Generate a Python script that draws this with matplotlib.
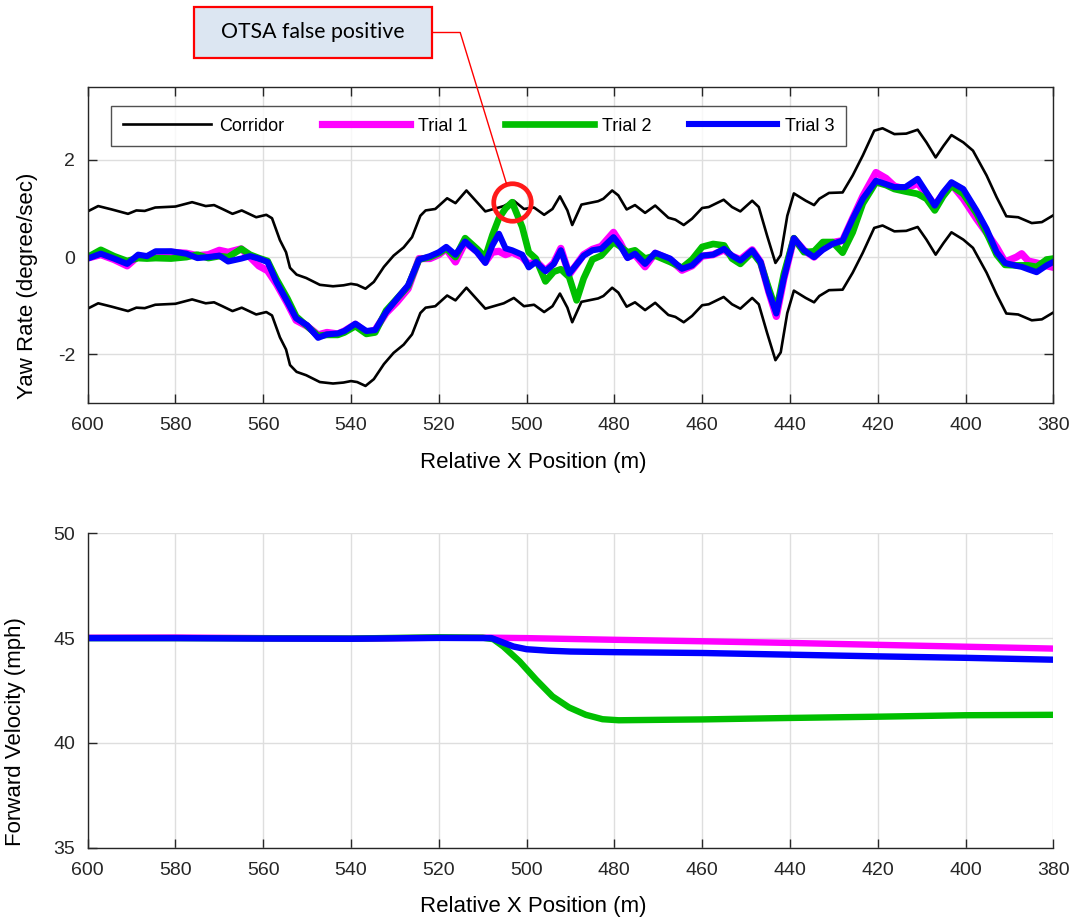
import matplotlib
matplotlib.use("Agg")
import matplotlib.pyplot as plt
from matplotlib.patches import Rectangle
import numpy as np

plt.rcParams["font.family"] = ["Liberation Sans", "DejaVu Sans"]
plt.rcParams["axes.unicode_minus"] = False

# ---- yaw rate: driver corridor (centre line, +/- half width) ----
CORRIDOR_X = [600, 597.6, 594.5, 590.8, 588.9, 587, 584.6, 580, 576.2, 573.1, 571.2,
              569.3, 567, 564.9, 561.6, 559.3, 558, 556.2, 554.8, 553.9, 552.4, 550.2,
              547.1, 544.1, 541.7, 540, 538.6, 536.7, 534.8, 532.5, 530.3, 528, 526.1,
              524.2, 523, 520.8, 518.1, 516.2, 513.7, 511.3, 509.4, 507.5, 505.2, 502.9,
              500.6, 498.3, 496, 494.1, 492.4, 490.7, 489.6, 487.5, 483.7, 482.5, 480.5,
              479.1, 477.2, 475.3, 473, 470.7, 467.7, 466.1, 464.2, 462.3, 460, 458.5,
              455.1, 453.2, 451.3, 448.6, 447.1, 445.2, 443.3, 442.1, 440.6, 439.1, 436.4,
              434.5, 433.3, 431.1, 428, 425.7, 423.4, 420.8, 418.9, 416.2, 413.5, 410.9,
              408.9, 406.8, 405, 403.2, 400.5, 398.3, 395.2, 392.9, 390.7, 388, 384.9,
              382.6, 380]
CORRIDOR_MID = [-0.06, 0.05, -0.02, -0.11, -0.04, -0.05, 0.02, 0.04, 0.13, 0.05, 0.07,
                -0.01, -0.11, -0.04, -0.18, -0.13, -0.2, -0.65, -0.9, -1.22, -1.36, -1.43,
                -1.57, -1.6, -1.58, -1.55, -1.57, -1.65, -1.51, -1.2, -0.97, -0.8, -0.59,
                -0.15, -0.04, -0.01, 0.21, 0.11, 0.37, 0.13, -0.06, -0.01, 0.05, 0.16,
                -0.01, 0.02, -0.13, -0.01, 0.25, -0.04, -0.34, 0.08, 0.15, 0.2, 0.37,
                0.27, -0.02, 0.07, -0.09, 0.06, -0.19, -0.23, -0.34, -0.21, 0.01, 0.03,
                0.18, 0.03, -0.06, 0.16, 0.03, -0.56, -1.12, -0.96, -0.15, 0.31, 0.16,
                0.07, 0.2, 0.32, 0.33, 0.68, 1.09, 1.6, 1.65, 1.53, 1.54, 1.62,
                1.36, 1.05, 1.29, 1.51, 1.36, 1.19, 0.68, 0.23, -0.16, -0.18, -0.3,
                -0.28, -0.14]
CORRIDOR_HALF = 1.0

# ---- yaw rate: trials ----
YAW_X = [600, 597, 594, 591, 588.5, 586.5, 584.5, 581, 577.5, 575, 572.5, 570, 568, 565,
         563, 561, 559, 557, 554.5, 552.5, 550, 547.5, 545.5, 543, 541.5, 539, 536.5,
         534.5, 532, 529.5, 527, 524.5, 522, 520, 518.3, 516.2, 514, 511.3, 509.4, 507.8,
         506.3, 504.8, 503.3, 501, 499.5, 497.9, 495.7, 493.8, 492.2, 490.3, 488.6, 487,
         485, 483, 480.2, 478.7, 477, 475.3, 473, 470.7, 467.3, 464.6, 462.3, 460, 457.5,
         455, 453.2, 451.3, 448.6, 446.7, 444.8, 443.1, 441.4, 439.1, 436.8, 434.5, 432.5,
         430.3, 428, 425.7, 423.4, 420.4, 418.1, 416.2, 413.7, 410.9, 408.9, 407, 405.1,
         403.2, 400.5, 397.5, 395.2, 392.9, 391, 388.4, 387.2, 385.7, 383.8, 381.5, 380]
YAW_T1 = [-0.02, 0.05, -0.05, -0.18, 0.02, 0.0, 0.08, 0.1, 0.08, 0.03, 0.05, 0.14, 0.1,
          0.17, 0.0, -0.18, -0.28, -0.55, -0.95, -1.3, -1.42, -1.6, -1.55, -1.58, -1.52,
          -1.38, -1.55, -1.5, -1.15, -0.92, -0.65, -0.03, -0.03, 0.05, 0.17, -0.1, 0.3,
          0.12, -0.1, 0.1, 0.12, 0.05, 0.1, 0.0, -0.15, -0.08, -0.28, -0.12, 0.18, -0.36,
          -0.15, 0.05, 0.16, 0.22, 0.51, 0.3, 0.0, 0.05, -0.2, 0.08, -0.05, -0.27, -0.18,
          0.02, 0.05, 0.15, 0.02, -0.05, 0.15, -0.1, -0.72, -1.22, -0.45, 0.38, 0.14, 0.0,
          0.18, 0.3, 0.34, 0.8, 1.25, 1.74, 1.62, 1.46, 1.4, 1.52, 1.3, 1.06, 1.3, 1.5,
          1.2, 0.79, 0.5, 0.2, -0.1, 0.0, 0.07, -0.08, -0.12, -0.18, -0.21]
YAW_T2 = [0.0, 0.15, 0.02, -0.08, -0.02, -0.03, -0.02, -0.03, 0.0, 0.05, -0.02, 0.02, 0.0,
          0.17, 0.05, -0.02, -0.08, -0.45, -0.85, -1.22, -1.42, -1.62, -1.6, -1.6, -1.55,
          -1.42, -1.58, -1.55, -1.1, -0.85, -0.6, -0.05, 0.0, 0.08, 0.18, 0.0, 0.39, 0.17,
          0.0, 0.45, 0.8, 1.0, 1.13, 0.62, 0.1, -0.03, -0.5, -0.3, -0.25, -0.41, -0.89,
          -0.44, -0.05, 0.03, 0.31, 0.22, 0.1, 0.14, -0.03, 0.03, -0.1, -0.22, -0.05, 0.21,
          0.27, 0.24, -0.03, -0.14, 0.1, -0.12, -0.65, -1.1, -0.35, 0.39, 0.1, 0.12, 0.31,
          0.31, 0.09, 0.51, 1.1, 1.54, 1.48, 1.4, 1.35, 1.3, 1.2, 0.96, 1.25, 1.47, 1.3,
          0.9, 0.5, 0.05, -0.16, -0.17, -0.17, -0.17, -0.2, -0.05, -0.03]
YAW_T3 = [-0.03, 0.07, -0.03, -0.14, 0.05, 0.02, 0.12, 0.12, 0.07, -0.02, 0.0, 0.03, -0.09,
          -0.03, 0.02, -0.03, -0.1, -0.51, -0.92, -1.26, -1.4, -1.66, -1.59, -1.57, -1.52,
          -1.37, -1.52, -1.5, -1.13, -0.85, -0.58, -0.05, 0.02, 0.1, 0.21, 0.05, 0.32, 0.1,
          -0.12, 0.24, 0.48, 0.18, 0.14, 0.05, -0.21, -0.1, -0.29, -0.14, 0.14, -0.34,
          -0.15, 0.03, 0.14, 0.17, 0.41, 0.24, -0.02, 0.07, -0.14, 0.09, -0.03, -0.24, -0.17,
          0.03, 0.05, 0.17, 0.03, -0.07, 0.14, -0.1, -0.72, -1.16, -0.44, 0.39, 0.14, 0.0,
          0.15, 0.27, 0.34, 0.79, 1.2, 1.57, 1.5, 1.44, 1.44, 1.61, 1.33, 1.06, 1.33, 1.54,
          1.4, 0.96, 0.58, 0.1, -0.12, -0.18, -0.2, -0.25, -0.31, -0.17, -0.1]

# false positive flagged on trial 2
FLAG_X = 503.3
FLAG_Y = 1.13

# ---- forward velocity ----
VEL_X_T1 = [600, 580, 560, 540, 520, 508, 500, 480, 460, 440, 420, 400, 380]
VEL_T1 = [45.02, 45.03, 45.0, 44.97, 45.02, 45.02, 45.0, 44.92, 44.85, 44.77, 44.68,
          44.59, 44.5]
VEL_X_T2 = [600, 580, 560, 540, 520, 510, 507.6, 505.3, 501.6, 497.8, 494.1, 490.3,
            486.5, 482.7, 479, 470, 460, 440, 420, 400, 380]
VEL_T2 = [45.0, 45.0, 44.99, 44.98, 45.04, 45.02, 44.95, 44.6, 43.89, 43.01, 42.22,
          41.69, 41.34, 41.13, 41.08, 41.1, 41.12, 41.19, 41.25, 41.32, 41.34]
VEL_X_T3 = [600, 580, 560, 540, 520, 508, 505.5, 503, 500, 495, 490, 480, 460, 440,
            420, 400, 380]
VEL_T3 = [45.0, 45.0, 44.98, 44.97, 45.01, 45.0, 44.8, 44.6, 44.47, 44.4, 44.36, 44.33,
          44.29, 44.21, 44.13, 44.06, 43.97]

X_TICKS = list(range(600, 379, -20))
C_T1 = "#ff00ff"
C_T2 = "#00bf00"
C_T3 = "#0000ff"
AX_COLOR = "#262626"
GRID_COLOR = "#dedede"


def style_axes(ax, boxed):
    ax.set_xlim(600, 380)
    ax.set_xticks(X_TICKS)
    ax.grid(True, color=GRID_COLOR, linewidth=1.0)
    ax.set_axisbelow(True)
    ax.tick_params(direction="in", length=6.5, width=1.0, colors=AX_COLOR,
                   labelsize=14, top=boxed, right=boxed)
    ax.tick_params(axis="x", pad=10)
    ax.tick_params(axis="y", pad=9)
    for side, sp in ax.spines.items():
        sp.set_color(AX_COLOR)
        sp.set_linewidth(1.0)
        if side in ("top", "right"):
            sp.set_visible(boxed)


fig = plt.figure(figsize=(10.69, 9.24), dpi=100)
ax1 = fig.add_axes([0.082, 0.5639, 0.9033, 0.342])
ax2 = fig.add_axes([0.082, 0.0826, 0.9033, 0.3402])

# top: yaw rate
mid = np.array(CORRIDOR_MID)
ax1.plot(CORRIDOR_X, mid + CORRIDOR_HALF, color="black", lw=1.9, label="Corridor")
ax1.plot(CORRIDOR_X, mid - CORRIDOR_HALF, color="black", lw=1.9)
ax1.plot(YAW_X, YAW_T1, color=C_T1, lw=5.2, label="Trial 1", solid_joinstyle="round")
ax1.plot(YAW_X, YAW_T2, color=C_T2, lw=4.8, label="Trial 2", solid_joinstyle="round")
ax1.plot(YAW_X, YAW_T3, color=C_T3, lw=4.4, label="Trial 3", solid_joinstyle="round")
ax1.plot([FLAG_X], [FLAG_Y], marker="o", ms=27, mfc="none", mec="#ff1a1a", mew=3.4,
         zorder=5)
ax1.set_ylim(-3, 3.5)
ax1.set_yticks([-2, 0, 2])
style_axes(ax1, boxed=True)
ax1.set_xlabel("Relative X Position (m)", fontsize=16)
ax1.xaxis.set_label_coords(0.461, -0.155)
ax1.set_ylabel("Yaw Rate (degree/sec)", fontsize=16)
ax1.yaxis.set_label_coords(-0.051, 0.37)

leg = ax1.legend(loc="upper left", bbox_to_anchor=(0.024, 0.94), ncol=4, fontsize=13,
                 handlelength=4.9, handletextpad=0.45, columnspacing=2.07,
                 frameon=True, fancybox=False, borderaxespad=0, borderpad=0.65)
leg.get_frame().set_edgecolor(AX_COLOR)
leg.get_frame().set_linewidth(1.0)

# callout box
box = Rectangle((194 / 1069, 1 - 58.3 / 924), 237.7 / 1069, 51.6 / 924,
                transform=fig.transFigure, facecolor="#dce6f2", edgecolor="#ff0000",
                linewidth=1.6, zorder=10, clip_on=False)
ax1.add_patch(box)
ax1.annotate("OTSA false positive", xy=(FLAG_X, FLAG_Y), xycoords="data",
             xytext=(312.9 / 1069, 1 - 32.5 / 924), textcoords="figure fraction",
             ha="center", va="center", fontsize=15.3, family=["Lato", "DejaVu Sans"],
             color="black", zorder=11, annotation_clip=False,
             arrowprops=dict(arrowstyle="-", color="#ff0000", lw=1.0, patchA=box,
                             shrinkA=0, shrinkB=14,
                             connectionstyle="angle,angleA=0,angleB=107,rad=0"))

# bottom: forward velocity
ax2.plot(VEL_X_T1, VEL_T1, color=C_T1, lw=4.6)
ax2.plot(VEL_X_T2, VEL_T2, color=C_T2, lw=4.6)
ax2.plot(VEL_X_T3, VEL_T3, color=C_T3, lw=4.6)
ax2.set_ylim(35, 50)
ax2.set_yticks([35, 40, 45, 50])
style_axes(ax2, boxed=False)
ax2.set_xlabel("Relative X Position (m)", fontsize=16)
ax2.xaxis.set_label_coords(0.461, -0.155)
ax2.set_ylabel("Forward Velocity (mph)", fontsize=16)
ax2.yaxis.set_label_coords(-0.064, 0.37)

fig.savefig("out.png", dpi=100)
